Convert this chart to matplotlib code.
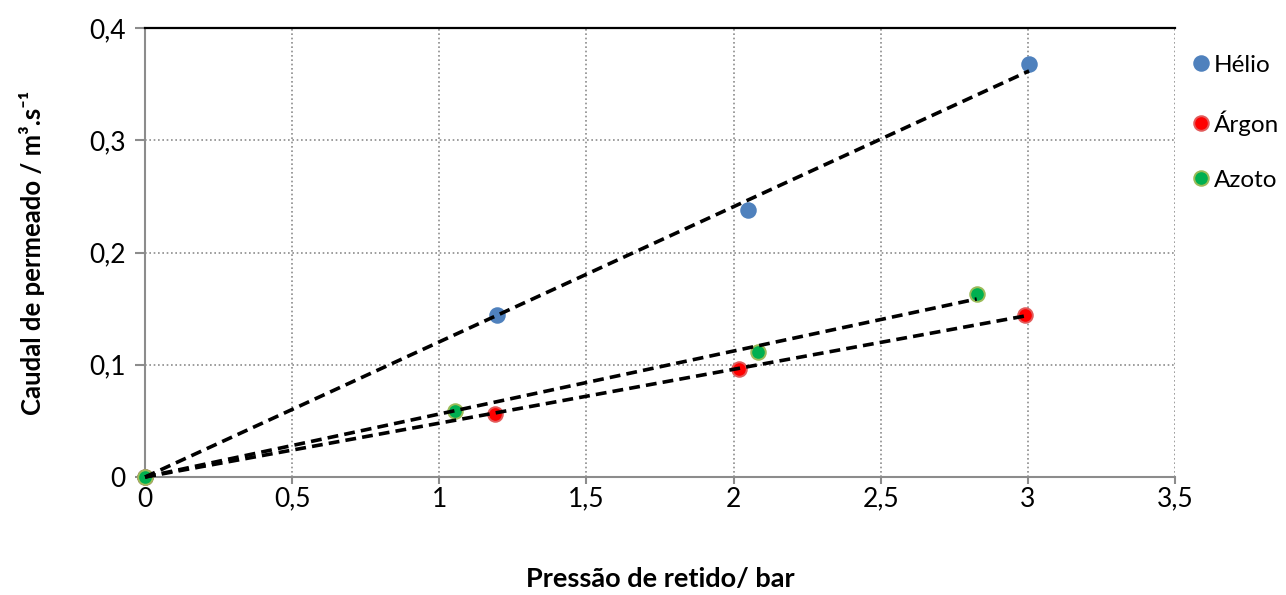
import numpy as np
import matplotlib
matplotlib.use("Agg")
import matplotlib.pyplot as plt
from matplotlib.ticker import FuncFormatter, MultipleLocator

plt.rcParams['font.family'] = ['Lato', 'DejaVu Sans']

# Permeate flow vs retentate pressure for each gas
series_names = ["Hélio", "Árgon", "Azoto"]
helio_p = [0.0, 1.195, 2.05, 3.004]
helio_q = [0.0, 0.1443, 0.2375, 0.368]
argon_p = [0.0, 1.189, 2.018, 2.99]
argon_q = [0.0, 0.0563, 0.0960, 0.1443]
azoto_p = [0.0, 1.053, 2.084, 2.826]
azoto_q = [0.0, 0.0585, 0.1113, 0.163]

fill_colors = ["#4F81BD", "#FF0000", "#00B050"]
edge_colors = ["#4F81BD", "#E25A5A", "#9BBB59"]

fig = plt.figure(figsize=(12.86, 5.95), dpi=100)
ax = fig.add_axes([0.1128, 0.1983, 0.8009, 0.7546])

data = [(helio_p, helio_q), (argon_p, argon_q), (azoto_p, azoto_q)]

# Linear trendlines forced through the origin, spanning each series' range
for p, q in data:
    p = np.asarray(p)
    q = np.asarray(q)
    slope = np.sum(p * q) / np.sum(p * p)
    xs = np.array([0.0, p.max()])
    ax.plot(xs, slope * xs, color="black", lw=2.6, ls=(0, (3.0, 1.7)),
            zorder=4, dash_capstyle="butt", clip_on=False)

for (p, q), name, fc, ec in zip(data, series_names, fill_colors, edge_colors):
    ax.plot(p, q, ls="none", marker="o", markersize=10.5, markerfacecolor=fc,
            markeredgecolor=ec, markeredgewidth=1.4, label=name, zorder=3,
            clip_on=False)

ax.set_xlim(0, 3.5)
ax.set_ylim(0, 0.4)
ax.xaxis.set_major_locator(MultipleLocator(0.5))
ax.yaxis.set_major_locator(MultipleLocator(0.1))

fmt = FuncFormatter(lambda v, pos: "{:g}".format(round(v, 3)).replace(".", ","))
ax.xaxis.set_major_formatter(fmt)
ax.yaxis.set_major_formatter(fmt)

ax.grid(True, color="#8C8C8C", ls=(0, (1, 1.6)), lw=1.2)
ax.set_axisbelow(True)

for side in ["left", "bottom"]:
    ax.spines[side].set_color("#8C8C8C")
    ax.spines[side].set_linewidth(1.5)
ax.spines["right"].set_visible(False)
ax.spines["top"].set_color("black")
ax.spines["top"].set_linewidth(1.6)

ax.tick_params(axis="both", colors="#8C8C8C", labelcolor="black",
               labelsize=19, width=1.5, direction="out")
ax.tick_params(axis="y", length=7, pad=7)
ax.tick_params(axis="x", length=5, pad=2)

ax.set_xlabel("Pressão de retido/ bar", fontsize=19.5, fontweight="bold",
              labelpad=40)
ax.set_ylabel("Caudal de permeado / m³.s⁻¹", fontsize=18.5, fontweight="bold",
              labelpad=32)

leg = ax.legend(loc="upper left", bbox_to_anchor=(1.012, 0.94), frameon=False,
                fontsize=17.5, handletextpad=0.0, labelspacing=1.40,
                handlelength=1.1, borderaxespad=0, borderpad=0)

fig.savefig("out.png", dpi=100)
